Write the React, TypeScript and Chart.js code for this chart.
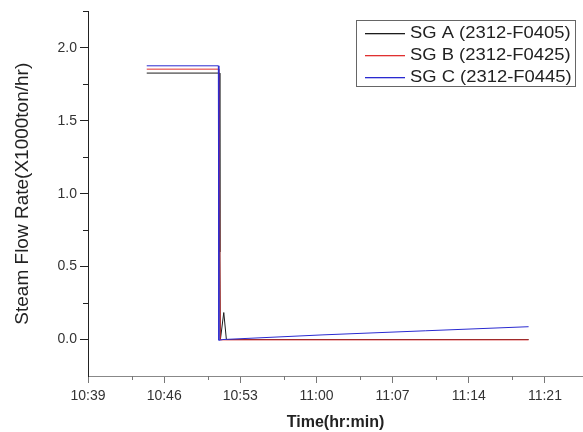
import React, { useEffect, useRef } from "react";
import { Chart, registerables } from "chart.js";

Chart.register(...registerables);

// minutes after 10:39
const START_HOUR = 10;
const START_MIN = 39;
const xMajorTicks = [0, 7, 14, 21, 28, 35, 42];
const xMinorTicks = [4, 11, 18, 25, 32, 39];
const yMajorTicks = [0, 0.5, 1.0, 1.5, 2.0];
const yMinorTicks = [0.25, 0.75, 1.25, 1.75, 2.25];

const seriesLabels = ["SG A (2312-F0405)", "SG B (2312-F0425)", "SG C (2312-F0445)"];
const seriesColors = ["#1c1c1c", "#e03030", "#2a2ad0"];

const sgA_x = [5.4, 12.08, 12.12, 12.17, 12.48, 12.72, 40.5];
const sgA_y = [1.827, 1.827, 0.6, 0.0, 0.185, 0.0, 0.0];

const sgB_x = [5.4, 12.05, 12.15, 40.5];
const sgB_y = [1.854, 1.854, -0.002, -0.002];

const sgC_x = [5.4, 11.98, 12.03, 12.4, 21.6, 31.0, 40.5];
const sgC_y = [1.877, 1.877, -0.005, 0.0, 0.032, 0.06, 0.088];

const FONT = "'Liberation Sans', Arial, sans-serif";

function pts(xs: number[], ys: number[]) {
  return xs.map((x, i) => ({ x, y: ys[i] }));
}

function fmtTime(v: number) {
  const total = START_HOUR * 60 + START_MIN + Math.round(v);
  const h = Math.floor(total / 60);
  const m = total % 60;
  return `${h}:${m < 10 ? "0" + m : m}`;
}

const extrasPlugin = {
  id: "extras",
  afterDraw(chart: any) {
    const ctx = chart.ctx;
    const xs = chart.scales.x;
    const ys = chart.scales.y;
    ctx.save();
    // minor ticks
    ctx.lineWidth = 1;
    ctx.strokeStyle = "#777";
    xMinorTicks.forEach((v) => {
      const px = Math.round(xs.getPixelForValue(v)) + 0.5;
      ctx.beginPath();
      ctx.moveTo(px, xs.top);
      ctx.lineTo(px, xs.top + 4);
      ctx.stroke();
    });
    ctx.strokeStyle = "#222";
    yMinorTicks.forEach((v) => {
      const py = Math.round(ys.getPixelForValue(v)) + 0.5;
      ctx.beginPath();
      ctx.moveTo(ys.right, py);
      ctx.lineTo(ys.right - 5, py);
      ctx.stroke();
    });
    // legend
    const bx = 356.5, by = 20.5, bw = 219, bh = 66;
    ctx.strokeStyle = "#666";
    ctx.strokeRect(bx, by, bw, bh);
    ctx.font = `16px ${FONT}`;
    ctx.textBaseline = "middle";
    ctx.textAlign = "left";
    const rows = [33, 55, 77];
    seriesLabels.forEach((lab, i) => {
      ctx.fillStyle = seriesColors[i];
      ctx.fillRect(365, rows[i], 40, 1.3);
      ctx.save();
      ctx.fillStyle = "#222";
      ctx.translate(410, rows[i] + 1);
      ctx.scale(1.15, 1);
      ctx.fillText(lab, 0, 0);
      ctx.restore();
    });
    ctx.restore();
  },
};

export default function App() {
  const ref = useRef<HTMLCanvasElement | null>(null);
  useEffect(() => {
    document.body.style.margin = "0";
    const canvas = ref.current;
    if (!canvas) return;
    const chart = new Chart(canvas, {
      type: "line",
      data: {
        datasets: [
          { label: seriesLabels[0], data: pts(sgA_x, sgA_y), borderColor: seriesColors[0], borderWidth: 1, pointRadius: 0, tension: 0, order: 2 },
          { label: seriesLabels[1], data: pts(sgB_x, sgB_y), borderColor: seriesColors[1], borderWidth: 1, pointRadius: 0, tension: 0, order: 1 },
          { label: seriesLabels[2], data: pts(sgC_x, sgC_y), borderColor: seriesColors[2], borderWidth: 1, pointRadius: 0, tension: 0, order: 0 },
        ],
      },
      options: {
        animation: false,
        responsive: false,
        layout: { padding: { top: 8, right: 0, left: 0, bottom: 0 } },
        plugins: { legend: { display: false }, tooltip: { enabled: false } },
        scales: {
          x: {
            type: "linear",
            min: 0,
            max: 45.5,
            afterBuildTicks: (s: any) => {
              s.ticks = xMajorTicks.map((v) => ({ value: v }));
            },
            afterFit: (s: any) => {
              s.height = 56;
            },
            ticks: {
              autoSkip: false,
              maxRotation: 0,
              padding: 5,
              color: "#333",
              font: { family: FONT, size: 14 },
              callback: (v: any) => fmtTime(Number(v)),
            },
            grid: { drawOnChartArea: false, drawTicks: true, tickLength: 7, color: "#777", lineWidth: 1 },
            border: { display: true, color: "#888", width: 1 },
            title: {
              display: true,
              text: "Time(hr:min)",
              color: "#222",
              font: { family: FONT, size: 16, weight: "bold" },
              padding: { top: 0, bottom: 0 },
            },
          },
          y: {
            type: "linear",
            min: -0.25,
            max: 2.25,
            afterBuildTicks: (s: any) => {
              s.ticks = yMajorTicks.map((v) => ({ value: v }));
            },
            afterFit: (s: any) => {
              s.width = 88;
            },
            ticks: {
              autoSkip: false,
              padding: 3,
              color: "#333",
              font: { family: FONT, size: 14 },
              callback: (v: any) => Number(v).toFixed(1),
            },
            grid: { drawOnChartArea: false, drawTicks: true, tickLength: 8, color: "#222", lineWidth: 1 },
            border: { display: true, color: "#222", width: 1 },
            title: {
              display: true,
              text: "Steam Flow Rate(X1000ton/hr)",
              color: "#222",
              font: { family: FONT, size: 19 },
              padding: { top: 11, bottom: 0 },
            },
          },
        },
      },
      plugins: [extrasPlugin],
    } as any);
    return () => chart.destroy();
  }, []);
  return (
    <div style={{ position: "fixed", left: 0, top: 0, width: 583, height: 432, background: "#fff" }}>
      <canvas ref={ref} width={583} height={432} style={{ display: "block" }} />
    </div>
  );
}
